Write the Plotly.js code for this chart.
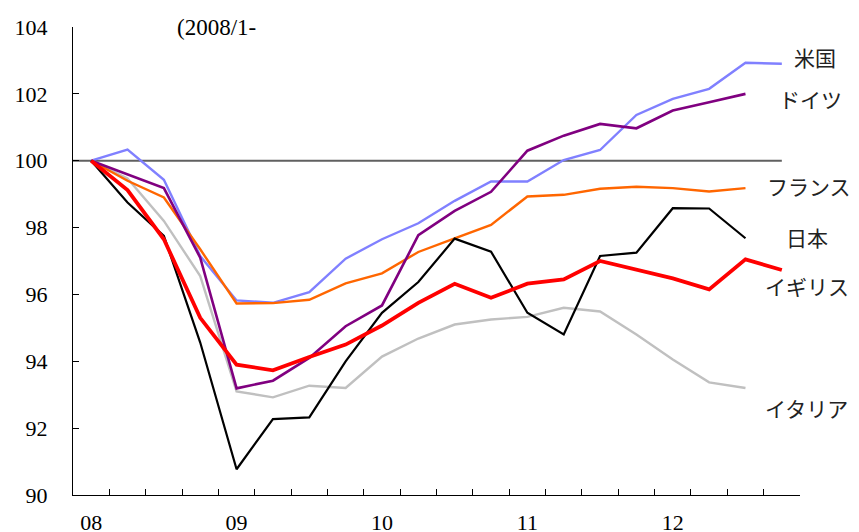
<!DOCTYPE html>
<html>
<head>
<meta charset="utf-8">
<script src="https://cdn.plot.ly/plotly-3.0.1.min.js"></script>
<style>html,body{margin:0;padding:0;background:#fff;}#chart{width:859px;height:532px;}</style>
</head>
<body>
<div id="chart"></div>
<script>
// Quarters 2008Q1 - 2012Q4
const quarters = ['2008Q1','2008Q2','2008Q3','2008Q4','2009Q1','2009Q2','2009Q3','2009Q4',
                  '2010Q1','2010Q2','2010Q3','2010Q4','2011Q1','2011Q2','2011Q3','2011Q4',
                  '2012Q1','2012Q2','2012Q3','2012Q4'];
const yearLabels = ['08','09','10','11','12'];
const yearQuarters = ['2008Q1','2009Q1','2010Q1','2011Q1','2012Q1'];
const baseline = 100;
const noteText = '(2008/1-';

const usa     = [100,100.33,99.43,97.15,95.82,95.75,96.07,97.07,97.65,98.13,98.8,99.38,99.38,100.02,100.32,101.37,101.85,102.15,102.93,102.9];
const germany = [100,99.6,99.18,97.1,93.19,93.42,94.1,95.05,95.67,97.77,98.5,99.07,100.3,100.75,101.1,100.97,101.5,101.75,102.0];
const france  = [100,99.4,98.9,97.35,95.73,95.74,95.84,96.33,96.63,97.27,97.68,98.08,98.93,98.98,99.16,99.22,99.18,99.08,99.18];
const japan   = [100,98.75,97.75,94.56,90.77,92.27,92.32,94.0,95.45,96.37,97.67,97.28,95.45,94.8,97.15,97.25,98.58,98.57,97.68];
const uk      = [100,99.12,97.65,95.3,93.9,93.73,94.13,94.5,95.07,95.75,96.32,95.9,96.32,96.45,97.0,96.75,96.48,96.15,97.05,96.73];
const italy   = [100,99.47,98.2,96.55,93.1,92.92,93.27,93.2,94.14,94.68,95.1,95.25,95.33,95.6,95.49,94.8,94.05,93.37,93.2];

const names = ['米国','ドイツ','フランス','日本','イギリス','イタリア'];
const yTicks = [90,92,94,96,98,100,102,104];

const idx = arr => arr.map((_, i) => i);
const serif = 'Liberation Serif, Times New Roman, serif';
const jp = 'Noto Sans CJK JP, sans-serif';

function tr(vals, color, width) {
  return {x: idx(vals), y: vals, type: 'scatter', mode: 'lines',
          line: {color: color, width: width}, hoverinfo: 'skip', showlegend: false};
}

const traces = [
  tr(italy, '#C0C0C0', 2.4),
  tr(usa, '#8080FF', 2.4),
  tr(france, '#FF6600', 2.4),
  tr(germany, '#800080', 2.6),
  tr(japan, '#000000', 2.2),
  tr(uk, '#FF0000', 3.8)
];
// dummy trace for label axis
traces.push({x: [0], y: [null], xaxis: 'x2', type: 'scatter', mode: 'lines', showlegend: false, hoverinfo: 'skip'});

const last = quarters.length - 1;
const labelPos = [
  {x: 19.28, y: 103.1},
  {x: 18.86, y: 101.85},
  {x: 18.54, y: 99.25},
  {x: 19.06, y: 97.73},
  {x: 18.49, y: 96.25},
  {x: 18.49, y: 92.6}
];

const annotations = names.map((n, i) => ({
  text: n, x: labelPos[i].x, y: labelPos[i].y, xref: 'x', yref: 'y',
  xanchor: 'left', yanchor: 'middle', showarrow: false,
  font: {family: jp, size: 21, color: '#222'}
}));
annotations.push({text: noteText, x: 2.3, y: 104, xref: 'x', yref: 'y', xanchor: 'left', yanchor: 'middle',
  showarrow: false, font: {family: serif, size: 23, color: '#000'}});

const layout = {
  width: 859, height: 532,
  margin: {l: 73, r: 59, t: 27, b: 37},
  paper_bgcolor: '#fff', plot_bgcolor: '#fff',
  showlegend: false,
  xaxis: {
    range: [-0.5, last + 0.5], showgrid: false, zeroline: false,
    showline: true, linecolor: '#000', linewidth: 1.2,
    tickmode: 'array', tickvals: quarters.map((_, i) => i + 0.5),
    ticktext: quarters.map(() => ''),
    ticks: 'inside', ticklen: 6, tickcolor: '#000', tickwidth: 1,
    showticklabels: false, fixedrange: true
  },
  xaxis2: {
    overlaying: 'x', side: 'bottom', range: [-0.5, last + 0.5],
    showgrid: false, zeroline: false, showline: false, ticks: '',
    tickmode: 'array', tickvals: yearQuarters.map(q => quarters.indexOf(q)),
    ticktext: yearLabels, ticklabelstandoff: 12,
    tickfont: {family: serif, size: 22, color: '#000'}
  },
  yaxis: {
    range: [90, 104], showgrid: false, zeroline: false,
    showline: true, linecolor: '#000', linewidth: 1.2,
    tickmode: 'array', tickvals: yTicks, ticktext: yTicks.map(String),
    ticks: 'inside', ticklen: 6, tickcolor: '#000',
    ticklabelstandoff: 20,
    tickfont: {family: serif, size: 22, color: '#000'}
  },
  shapes: [{type: 'line', xref: 'x', yref: 'y', x0: -0.5, x1: last, y0: baseline, y1: baseline,
            line: {color: '#606060', width: 2}, layer: 'below'}],
  annotations: annotations
};

Plotly.newPlot('chart', traces, layout, {displayModeBar: false, staticPlot: true});
</script>
</body>
</html>
